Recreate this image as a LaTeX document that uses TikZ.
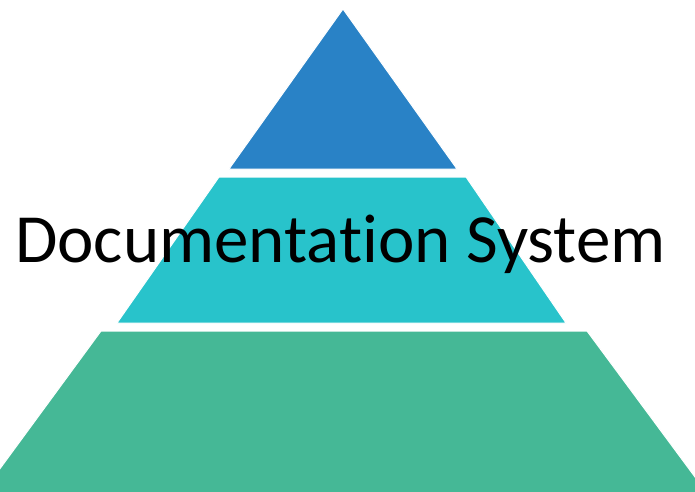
\documentclass[tikz,border=0pt]{standalone}
\usepackage{fontspec}
\setmainfont{Carlito}[Ligatures=NoCommon]
\usetikzlibrary{positioning}
\definecolor{topblue}{RGB}{41,130,198}
\definecolor{midteal}{RGB}{40,195,203}
\definecolor{lowgreen}{RGB}{69,184,150}
\tikzset{
  level/.style={draw=white, line width=1pt, line join=miter},
  title/.style={font=\fontsize{69}{69}\selectfont, inner sep=0pt, anchor=base}
}
\begin{document}
\begin{tikzpicture}[x=1pt, y=-1pt]
\useasboundingbox (0,0) rectangle (695,491);

\coordinate (T) at (343,9);
\coordinate (TL) at (229,169);
\coordinate (TR) at (457,169);
\coordinate (ML') at (219,177);
\coordinate (MR') at (466,177);
\coordinate (ML) at (117,323);
\coordinate (MR) at (566,323);
\coordinate (BL') at (101,331);
\coordinate (BR') at (587,331);
\coordinate (BL) at (-23,500);
\coordinate (BR) at (712,500);

\filldraw[level, fill=topblue] (T) -- (TR) -- (TL) -- cycle;
\filldraw[level, fill=midteal] (ML') -- (MR') -- (MR) -- (ML) -- cycle;
\filldraw[level, fill=lowgreen] (BL') -- (BR') -- (BR) -- (BL) -- cycle;

\node[title] (doc) at (340.5,262) {Documentation System};
\end{tikzpicture}
\end{document}
